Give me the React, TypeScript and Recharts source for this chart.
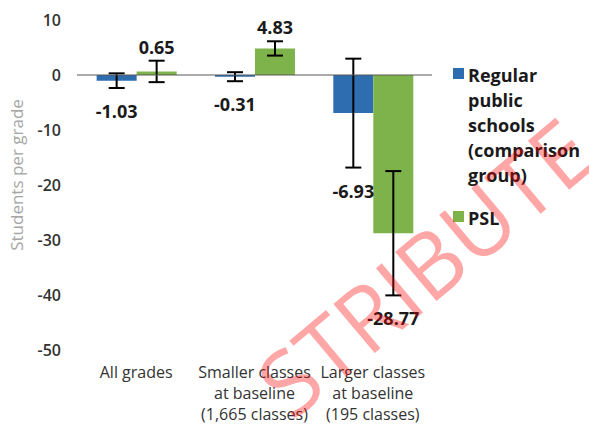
import React from 'react';
import { BarChart, Bar, XAxis, YAxis, ErrorBar, LabelList, ReferenceLine, Legend } from 'recharts';

const categories = ['All grades', 'Smaller classes at baseline (1,665 classes)', 'Larger classes at baseline (195 classes)'];
const categoryLines = [
  ['All grades'],
  ['Smaller classes', 'at baseline', '(1,665 classes)'],
  ['Larger classes', 'at baseline', '(195 classes)'],
];
const regularValues = [-1.03, -0.31, -6.93];
const regularErrors = [1.33, 0.82, 9.9];
const pslValues = [0.65, 4.83, -28.77];
const pslErrors = [1.95, 1.3, 11.3];
const yTicks = [-50, -40, -30, -20, -10, 0, 10];
const seriesNames = ['Regular public schools (comparison group)', 'PSL'];
const legendLines = [['Regular', 'public', 'schools', '(comparison', 'group)'], ['PSL']];
const watermarkText = 'STRIBUTE';

const BLUE = '#2d6db0';
const GREEN = '#7db34a';
const FONT = '"Open Sans", "Noto Sans", sans-serif';

const data = categories.map((c, i) => ({
  category: c,
  regular: regularValues[i],
  regularErr: regularErrors[i],
  psl: pslValues[i],
  pslErr: pslErrors[i],
}));

const makeLabel = (errors: number[]) => (props: any) => {
  const vb = props.viewBox || {};
  const x = props.x ?? vb.x;
  const y = props.y ?? vb.y;
  const width = props.width ?? vb.width;
  const height = props.height ?? vb.height;
  const value = Number(props.value);
  const index = props.index;
  if (!value || height === undefined) return null;
  const pxPerUnit = Math.abs(height / value);
  const zeroY = y + height;
  const err = errors[index] ?? 0;
  let cy;
  if (value >= 0) {
    cy = zeroY - (value + err) * pxPerUnit - 14;
  } else {
    cy = zeroY - (value - err) * pxPerUnit + 23;
  }
  return (
    <text
      x={x + width / 2}
      y={cy}
      textAnchor="middle"
      dominantBaseline="central"
      fontFamily={FONT}
      fontWeight={700}
      fontSize={18}
      fill="#1a1a1a"
    >
      {value.toFixed(2)}
    </text>
  );
};

const CategoryTick = (props: any) => {
  const { x, y, payload } = props;
  const idx = categories.indexOf(payload.value);
  const lines = categoryLines[idx] || [payload.value];
  return (
    <text x={x} y={y + 19.5} textAnchor="middle" fontFamily={FONT} fontSize={16} fill="#333">
      {lines.map((l, i) => (
        <tspan key={i} x={x} dy={i === 0 ? 0 : 21}>
          {l}
        </tspan>
      ))}
    </text>
  );
};

const LegendContent = () => {
  const colors = [BLUE, GREEN];
  return (
    <div style={{ fontFamily: FONT, fontWeight: 700, fontSize: 18, color: '#1a1a1a' }}>
      {seriesNames.map((name, i) => (
        <div key={name} title={name} style={{ display: 'flex', alignItems: 'flex-start', marginBottom: i === 0 ? 18 : 0 }}>
          <div style={{ width: 11, height: 11, background: colors[i], marginTop: 5, marginRight: 4, flex: 'none' }} />
          <div style={{ lineHeight: '25px', whiteSpace: 'nowrap' }}>
            {legendLines[i].map((l, j) => (
              <div key={j}>{l}</div>
            ))}
          </div>
        </div>
      ))}
    </div>
  );
};

export default function App() {
  return (
    <div style={{ position: 'absolute', left: 0, top: 0, width: 589, height: 424, background: '#fff', overflow: 'hidden' }}>
      <BarChart
        width={589}
        height={424}
        data={data}
        margin={{ top: 20, right: 21, bottom: 44, left: 0 }}
        barCategoryGap="16.6%"
        barGap={0}
      >
        <XAxis
          dataKey="category"
          axisLine={false}
          tickLine={false}
          tick={<CategoryTick />}
          interval={0}
          height={30}
        />
        <YAxis
          width={77}
          domain={[-50, 10]}
          ticks={yTicks}
          axisLine={false}
          tickLine={false}
          tickMargin={10}
          tick={{ fontFamily: FONT, fontSize: 16, fontWeight: 600, fill: '#333' }}
          label={{
            value: 'Students per grade',
            angle: -90,
            position: 'insideLeft',
            offset: 0,
            dx: 17,
            dy: -10,
            style: { fontFamily: FONT, fontSize: 17, fill: '#a6a6a6', textAnchor: 'middle' },
          }}
        />
        <Legend
          layout="vertical"
          verticalAlign="top"
          align="right"
          content={<LegendContent />}
          wrapperStyle={{ width: 136, left: 453, top: 62.5 }}
        />
        <Bar dataKey="regular" name={seriesNames[0]} fill={BLUE} isAnimationActive={false}>
          <ErrorBar dataKey="regularErr" stroke="#000" strokeWidth={2} width={8} direction="y" />
          <LabelList dataKey="regular" content={makeLabel(regularErrors)} />
        </Bar>
        <Bar dataKey="psl" name={seriesNames[1]} fill={GREEN} isAnimationActive={false}>
          <ErrorBar dataKey="pslErr" stroke="#000" strokeWidth={2} width={8} direction="y" />
          <LabelList dataKey="psl" content={makeLabel(pslErrors)} />
        </Bar>
        <ReferenceLine y={0} stroke="#595959" strokeWidth={1.2} />
      </BarChart>
      <svg width={589} height={424} style={{ position: 'absolute', left: 0, top: 0, pointerEvents: 'none' }}>
        <text
          x={424}
          y={266}
          transform="rotate(-40 424 266)"
          textAnchor="middle"
          dominantBaseline="central"
          fontFamily={FONT}
          fontSize={90}
          fill="#ff0000"
          fillOpacity={0.35}
        >
          {watermarkText}
        </text>
      </svg>
    </div>
  );
}
